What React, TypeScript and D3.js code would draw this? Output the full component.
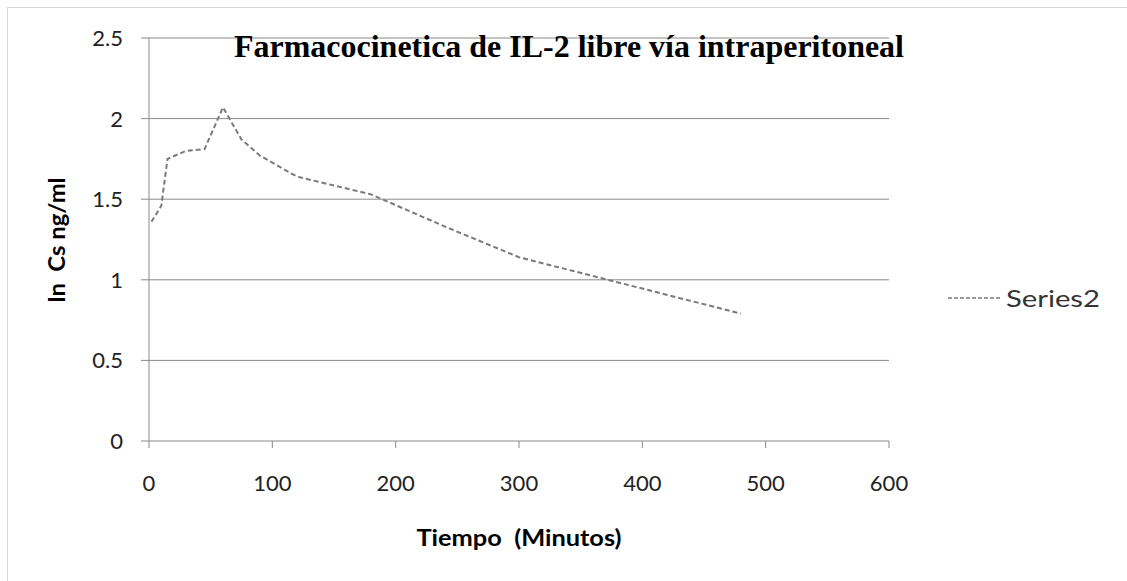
import React from "react";
import * as d3 from "d3";

const times = [2, 10, 15, 30, 45, 60, 75, 90, 120, 180, 240, 300, 480];
const lnCs = [1.36, 1.46, 1.75, 1.8, 1.81, 2.07, 1.87, 1.77, 1.64, 1.53, 1.33, 1.14, 0.79];
const xTicks = [0, 100, 200, 300, 400, 500, 600];
const yTicks = [0, 0.5, 1, 1.5, 2, 2.5];
const title = "Farmacocinetica de IL-2 libre vía intraperitoneal";
const xLabel = "Tiempo  (Minutos)";
const yLabel = "ln  Cs ng/ml";
const seriesName = "Series2";

export default function App() {
  const W = 1127, H = 581;
  const x = d3.scaleLinear().domain([0, 600]).range([149, 889]);
  const y = d3.scaleLinear().domain([0, 2.5]).range([441, 38]);
  const data = times.map((t, i) => [t, lnCs[i]] as [number, number]);
  const line = d3.line<[number, number]>().x(d => x(d[0])).y(d => y(d[1]));
  const font = "Lato, sans-serif";
  const grid = "#8a8a8a";
  return (
    <svg width={W} height={H} style={{ position: "absolute", left: 0, top: 0, background: "#fff" }}>
      <rect x={7.5} y={7.5} width={1200} height={700} fill="none" stroke="#b0b0b0" strokeDasharray="1,1" />
      {yTicks.filter(v => v > 0).map(v => (
        <line key={v} x1={x(0)} x2={x(600)} y1={y(v)} y2={y(v)} stroke={grid} strokeWidth={1} />
      ))}
      <line x1={x(0)} x2={x(0)} y1={y(0)} y2={y(2.5)} stroke={grid} />
      <line x1={x(0)} x2={x(600)} y1={y(0)} y2={y(0)} stroke={grid} />
      {yTicks.map(v => (
        <g key={v}>
          <line x1={x(0) - 8} x2={x(0)} y1={y(v)} y2={y(v)} stroke={grid} />
          <text x={123} y={y(v)} dy="0.36em" textAnchor="end" fontFamily={font} fontSize={22} fill="#222">{v}</text>
        </g>
      ))}
      {xTicks.map(v => (
        <g key={v}>
          <line x1={x(v)} x2={x(v)} y1={y(0)} y2={y(0) + 7} stroke={grid} />
          <text x={x(v)} y={491} textAnchor="middle" fontFamily={font} fontSize={22} fill="#222">{v}</text>
        </g>
      ))}
      <path d={line(data) || ""} fill="none" stroke="#7a7a7a" strokeWidth={2} strokeDasharray="5,3" />
      <text x={569} y={57} textAnchor="middle" fontFamily="'Liberation Serif', 'Times New Roman', serif" fontWeight="bold" fontSize={32} textLength={670} lengthAdjust="spacingAndGlyphs" fill="#000">{title}</text>
      <text x={519} y={546} textAnchor="middle" fontFamily={font} fontWeight="bold" fontSize={23} textLength={205} lengthAdjust="spacingAndGlyphs" fill="#000" style={{ whiteSpace: "pre" }}>{xLabel}</text>
      <text transform={`translate(65,240) rotate(-90)`} textAnchor="middle" fontFamily={font} fontWeight="bold" fontSize={22} textLength={125} lengthAdjust="spacingAndGlyphs" fill="#000" style={{ whiteSpace: "pre" }}>{yLabel}</text>
      <line x1={948} x2={1000} y1={298} y2={298} stroke="#7a7a7a" strokeWidth={1.5} strokeDasharray="4,2" />
      <text x={1006} y={298} dy="0.36em" fontFamily={font} fontSize={24} textLength={94} lengthAdjust="spacingAndGlyphs" fill="#333">{seriesName}</text>
    </svg>
  );
}
